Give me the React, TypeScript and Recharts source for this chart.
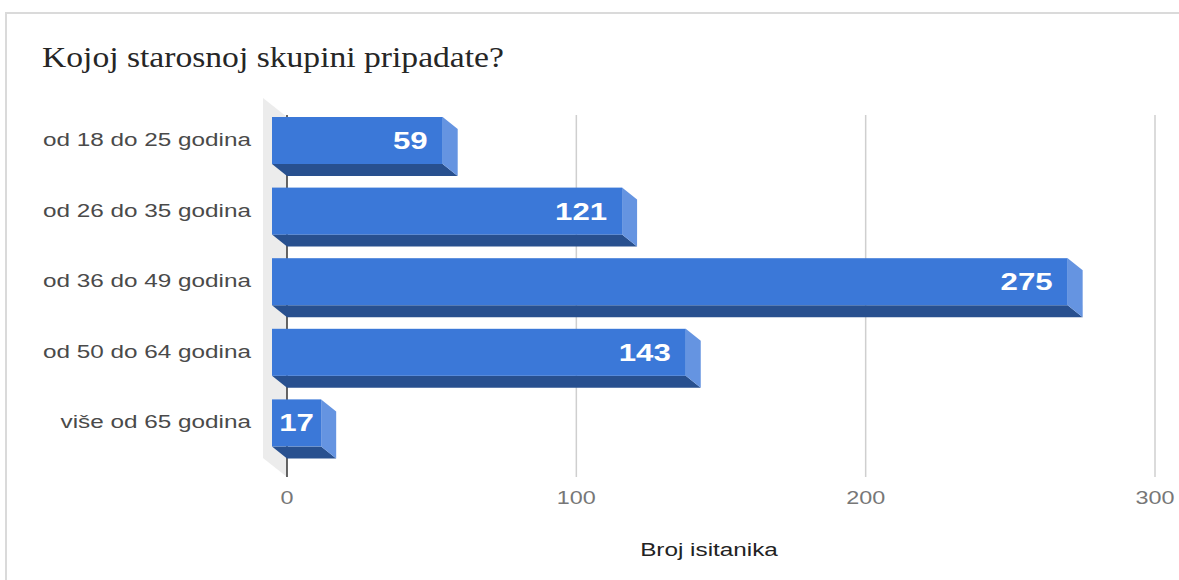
import React from 'react';
import { BarChart, Bar, XAxis, YAxis, CartesianGrid } from 'recharts';

const categories = ['od 18 do 25 godina', 'od 26 do 35 godina', 'od 36 do 49 godina', 'od 50 do 64 godina', 'više od 65 godina'];
const responses = [59, 121, 275, 143, 17];
const xTicks = [0, 100, 200, 300];

const data = categories.map((name, i) => ({ name, value: responses[i] }));

const SANS = '"Liberation Sans", Arial, sans-serif';
const STRETCH = 1.3; // reference screenshot is stretched horizontally
const DX = 15; // 3d depth
const DY = 12;

const FRONT = '#3b78d8';
const SIDE = '#6594e1';
const BOTTOM = '#28508f';

const Bar3D = (props: any) => {
    const { x, y, width, height, payload } = props;
    if (!width || width <= 0) return null;
    const fx = x - DX;
    const fy = y - DY;
    const fr = fx + width;
    const fb = fy + height;
    const fontSize = 24;
    const label = String(payload.value);
    const textW = label.length * 0.556 * fontSize * STRETCH;
    const fits = width - 30 >= textW;
    const tx = fits ? fr - 15 : fx + width / 2;
    const ty = fy + height / 2 + 0.358 * fontSize;
    return (
        <g>
            <polygon points={`${fx},${fb} ${fr},${fb} ${x + width},${y + height} ${x},${y + height}`} fill={BOTTOM} />
            <polygon points={`${fr},${fy} ${x + width},${y} ${x + width},${y + height} ${fr},${fb}`} fill={SIDE} />
            <rect x={fx} y={fy} width={width} height={height} fill={FRONT} />
            <g transform={`translate(${tx} ${ty}) scale(${STRETCH} 1)`}>
                <text x={0} y={0} textAnchor={fits ? 'end' : 'middle'} fill="#fff" fontFamily={SANS} fontWeight="bold" fontSize={fontSize}>
                    {label}
                </text>
            </g>
        </g>
    );
};

const GridLine = (props: any) => {
    const { x1, y1, x2, y2, index } = props;
    if (index === 0) {
        return (
            <g key={`g-${index}`}>
                <polygon points={`${x1 - 24},${y1 - 17} ${x1},${y1 + 2} ${x2},${y2} ${x2 - 24},${y2 - 19}`} fill="#ececec" />
                <line x1={x1} y1={y1} x2={x2} y2={y2} stroke="#333" strokeWidth={1.5} />
            </g>
        );
    }
    return <line key={`g-${index}`} x1={x1} y1={y1} x2={x2} y2={y2} stroke="#cfcfcf" strokeWidth={1.5} />;
};

const CategoryTick = (props: any) => {
    const { x, y, payload } = props;
    const fontSize = 18.7;
    return (
        <g transform={`translate(${x} ${y - DY + 0.358 * fontSize - 1}) scale(${STRETCH} 1)`}>
            <text x={0} y={0} textAnchor="end" fill="#4a4a4a" fontFamily={SANS} fontSize={fontSize}>
                {payload.value}
            </text>
        </g>
    );
};

const ValueTick = (props: any) => {
    const { x, y, payload } = props;
    const fontSize = 18;
    return (
        <g transform={`translate(${x} ${y + 0.358 * fontSize}) scale(${STRETCH} 1)`}>
            <text x={0} y={0} textAnchor="middle" fill="#777" fontFamily={SANS} fontSize={fontSize}>
                {payload.value}
            </text>
        </g>
    );
};

const App: React.FC = () => {
    return (
        <div style={{ position: 'absolute', left: 0, top: 0, width: 1179, height: 580, background: '#fff', overflow: 'hidden' }}>
            <div
                style={{
                    position: 'absolute',
                    left: 5,
                    top: 12,
                    width: 1200,
                    height: 600,
                    borderTop: '2px solid #dadada',
                    borderLeft: '2px solid #dadada',
                }}
            />
            <div
                style={{
                    position: 'absolute',
                    left: 42,
                    top: 42,
                    fontFamily: '"Liberation Serif", "Times New Roman", serif',
                    fontSize: 30,
                    lineHeight: '30px',
                    color: '#262626',
                    whiteSpace: 'nowrap',
                    transform: 'scaleX(1.12)',
                    transformOrigin: 'left top',
                }}
            >
                Kojoj starosnoj skupini pripadate?
            </div>
            <div style={{ position: 'absolute', left: 0, top: 0 }}>
                <BarChart width={1179} height={580} data={data} layout="vertical" margin={{ top: 115, right: 24, bottom: 0, left: 0 }}>
                    <CartesianGrid horizontal={false} vertical={GridLine} />
                    <XAxis
                        type="number"
                        domain={[0, 300]}
                        ticks={xTicks}
                        height={103}
                        axisLine={false}
                        tickLine={false}
                        tickSize={0}
                        tickMargin={21}
                        tick={ValueTick}
                        interval={0}
                    />
                    <YAxis
                        type="category"
                        dataKey="name"
                        width={287}
                        axisLine={false}
                        tickLine={false}
                        tickSize={0}
                        tickMargin={36}
                        padding={{ top: 2, bottom: 7 }}
                        tick={CategoryTick}
                        interval={0}
                    />
                    <Bar dataKey="value" barSize={47} isAnimationActive={false} shape={Bar3D} />
                </BarChart>
            </div>
            <div
                style={{
                    position: 'absolute',
                    left: 709,
                    top: 541,
                    fontFamily: SANS,
                    fontSize: 18.7,
                    lineHeight: '18.7px',
                    color: '#222',
                    whiteSpace: 'nowrap',
                    transform: 'translateX(-50%) scaleX(1.3)',
                }}
            >
                Broj isitanika
            </div>
        </div>
    );
};

export default App;
